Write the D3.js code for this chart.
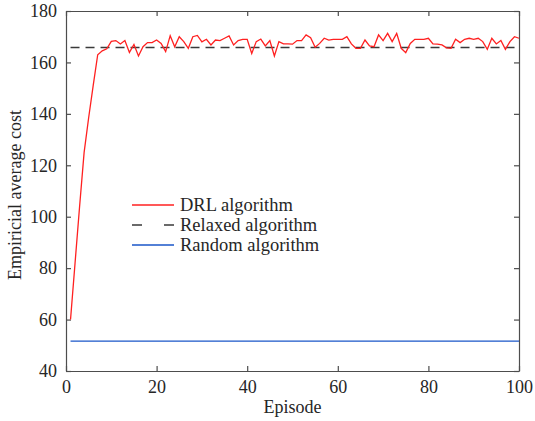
<!DOCTYPE html>
<html>
<head>
<meta charset="utf-8">
<script src="https://d3js.org/d3.v7.min.js"></script>
<style>
  body { margin: 0; background: #fff; }
  svg text { font-family: "Liberation Serif", "Times New Roman", serif; fill: #262626; }
</style>
</head>
<body>
<div id="chart"></div>
<script>
// episodes 1..100
var episodes = d3.range(1, 101);

// DRL algorithm
var drlCost = [
  60, 82, 104, 125, 138.5, 151, 163, 164.5, 165.3, 168.2,
  168.5, 167.2, 168.5, 163.9, 167.0, 162.5, 166.1, 167.7, 167.7, 168.7,
  167.4, 164.2, 170.4, 166.1, 170.0, 168.1, 165.5, 170.0, 170.5, 168.0,
  169.0, 166.8, 168.7, 168.5, 169.4, 170.3, 166.8, 168.5, 169.0, 169.0,
  163.5, 168.1, 169.1, 166.4, 168.5, 162.5, 168.1, 167.2, 167.2, 167.1,
  168.5, 168.5, 170.7, 169.6, 165.9, 167.4, 169.4, 168.7, 169.0, 169.0,
  169.0, 170.0, 167.2, 165.5, 165.5, 168.7, 166.4, 166.1, 170.7, 168.5,
  171.3, 168.1, 171.3, 165.5, 163.8, 167.4, 169.0, 169.0, 169.0, 169.4,
  167.2, 167.1, 166.8, 165.7, 165.5, 169.0, 167.7, 169.0, 169.4, 169.0,
  169.4, 168.1, 165.1, 169.4, 167.2, 168.5, 165.1, 168.1, 170.0, 169.4
];
var relaxedCost = 165.8;
var randomCost = 51.6;

var xTicks = [0, 20, 40, 60, 80, 100];
var yTicks = [40, 60, 80, 100, 120, 140, 160, 180];
var legendLabels = ["DRL algorithm", "Relaxed algorithm", "Random algorithm"];

var width = 535, height = 421;
var margin = {left: 66, right: 16, top: 11, bottom: 50};

var svg = d3.select("#chart").append("svg")
    .attr("width", width)
    .attr("height", height);

var x = d3.scaleLinear().domain([0, 100]).range([margin.left, width - margin.right]);
var y = d3.scaleLinear().domain([40, 180]).range([height - margin.bottom, margin.top]);

var axisColor = "#4d4d4d";

// axes with inward ticks, box around the plot
function styleAxis(g) {
  g.select(".domain").attr("stroke", axisColor).attr("stroke-width", 1.2);
  g.selectAll(".tick line").attr("stroke", axisColor).attr("stroke-width", 1.2);
  g.selectAll(".tick text").style("font-size", "18px").attr("fill", "#262626");
}

svg.append("g")
    .attr("transform", "translate(0," + y(40) + ")")
    .call(d3.axisBottom(x).tickValues(xTicks).tickSizeInner(-5).tickSizeOuter(0).tickPadding(9))
    .call(styleAxis);
svg.append("g")
    .attr("transform", "translate(0," + y(180) + ")")
    .call(d3.axisTop(x).tickValues(xTicks).tickSizeInner(-5).tickSizeOuter(0).tickFormat(""))
    .call(styleAxis);
svg.append("g")
    .attr("transform", "translate(" + x(0) + ",0)")
    .call(d3.axisLeft(y).tickValues(yTicks).tickSizeInner(-5).tickSizeOuter(0).tickPadding(9))
    .call(styleAxis);
svg.append("g")
    .attr("transform", "translate(" + x(100) + ",0)")
    .call(d3.axisRight(y).tickValues(yTicks).tickSizeInner(-5).tickSizeOuter(0).tickFormat(""))
    .call(styleAxis);

// lines
var line = d3.line()
    .x(function(d, i) { return x(episodes[i]); })
    .y(function(d) { return y(d); });

svg.append("path")
    .datum(episodes.map(function() { return randomCost; }))
    .attr("d", line)
    .attr("fill", "none")
    .attr("stroke", "#1a56c8")
    .attr("stroke-width", 1.3);

svg.append("path")
    .datum(episodes.map(function() { return relaxedCost; }))
    .attr("d", line)
    .attr("fill", "none")
    .attr("stroke", "#3a3a3a")
    .attr("stroke-width", 1.5)
    .attr("stroke-dasharray", "9,6");

svg.append("path")
    .datum(drlCost)
    .attr("d", line)
    .attr("fill", "none")
    .attr("stroke", "#ff2020")
    .attr("stroke-width", 1.3);

// axis titles
svg.append("text")
    .attr("x", (x(0) + x(100)) / 2)
    .attr("y", 413)
    .attr("text-anchor", "middle")
    .style("font-size", "18px")
    .text("Episode");

svg.append("text")
    .attr("transform", "translate(21,195) rotate(-90)")
    .attr("text-anchor", "middle")
    .style("font-size", "18px")
    .text("Empiricial average cost");

// legend
var legendColors = ["#ff2020", "#3a3a3a", "#1a56c8"];
var legendDash = [null, "10,22", null];
var legend = svg.append("g");
legendLabels.forEach(function(label, i) {
  var ly = 205 + i * 20;
  legend.append("line")
      .attr("x1", 132).attr("x2", 174)
      .attr("y1", ly).attr("y2", ly)
      .attr("stroke", legendColors[i])
      .attr("stroke-width", 1.4)
      .attr("stroke-dasharray", legendDash[i]);
  legend.append("text")
      .attr("x", 180)
      .attr("y", ly + 6)
      .style("font-size", "18.5px")
      .text(label);
});
</script>
</body>
</html>
